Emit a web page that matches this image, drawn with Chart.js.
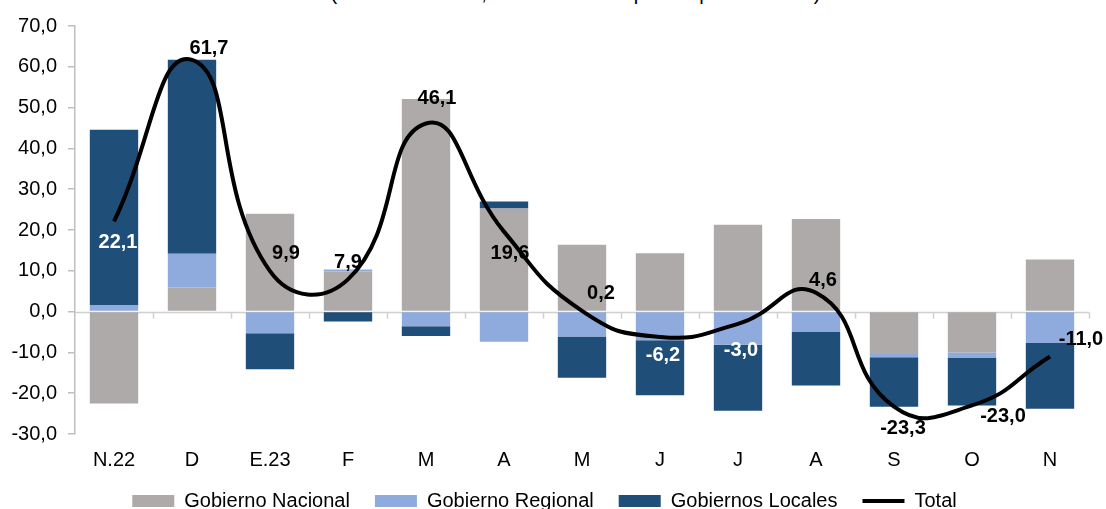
<!DOCTYPE html>
<html>
<head>
<meta charset="utf-8">
<script src="https://cdn.jsdelivr.net/npm/chart.js@4.4.1/dist/chart.umd.min.js"></script>
<style>
  html, body { margin: 0; padding: 0; background: #fff; overflow: hidden; }
  #wrap { position: relative; width: 1106px; height: 509px; }
  #sub { position: absolute; left: 0; width: 1106px; top: -18px; text-align: center; padding-left: 45px; box-sizing: border-box;
         font: 20px "Liberation Sans", Arial, sans-serif; color: #000; white-space: nowrap; }
  canvas { position: absolute; left: 0; top: 0; }
</style>
</head>
<body>
<div id="wrap">
  <div id="sub">(Variación % real, contribución en puntos porcentuales)</div>
  <canvas id="c" width="1106" height="509"></canvas>
</div>
<script>
const categories = ["N.22", "D", "E.23", "F", "M", "A", "M", "J", "J", "A", "S", "O", "N"];
const gobiernoNacional = [-22.5, 5.9, 24.0, 9.8, 52.1, 25.3, 16.4, 14.3, 21.3, 22.7, -10.4, -10.0, 12.8];
const gobiernoRegional = [1.6, 8.3, -5.3, 0.5, -3.6, -7.4, -6.1, -7.0, -8.1, -5.0, -0.8, -1.4, -7.7];
const gobiernosLocales = [43.0, 47.5, -8.8, -2.4, -2.4, 1.7, -10.1, -13.5, -16.2, -13.1, -12.1, -11.6, -16.1];
const total = [22.1, 61.7, 9.9, 7.9, 46.1, 19.6, 0.2, -6.2, -3.0, 4.6, -23.3, -23.0, -11.0];
const yTicks = [-30, -20, -10, 0, 10, 20, 30, 40, 50, 60, 70];

const fmt = v => v.toFixed(1).replace('.', ',');
const FONT = '"Liberation Sans", Arial, sans-serif';

// label offsets (pixels) and colours for the Total labels
const labelStyle = {
  dx: [4, 17, 16, 0, 11, 6, 19, 3, 3, 7, 9, 31, 31],
  dy: [21, -11, -18, -17, -25, 22, -17, 19, 27, -12, 22, 11, -17],
  color: ['#fff', '#000', '#000', '#000', '#000', '#000', '#000', '#fff', '#fff', '#000', '#000', '#000', '#000']
};

const zeroLinePlugin = {
  id: 'zeroLine',
  beforeDatasetsDraw(chart) {
    const { ctx, chartArea, scales } = chart;
    const y0 = Math.round(scales.y.getPixelForValue(0)) + 0.5;
    const n = categories.length;
    const step = (chartArea.right - chartArea.left) / n;
    ctx.save();
    ctx.strokeStyle = '#D0D0D0';
    ctx.lineWidth = 1.5;
    ctx.beginPath();
    ctx.moveTo(chartArea.left, y0);
    ctx.lineTo(chartArea.right, y0);
    for (let i = 1; i <= n; i++) {
      const x = Math.round(chartArea.left + i * step) + 0.5;
      ctx.moveTo(x, y0);
      ctx.lineTo(x, y0 + 6);
    }
    ctx.stroke();
    ctx.restore();
  }
};

const totalLabelPlugin = {
  id: 'totalLabels',
  afterDatasetsDraw(chart) {
    const idx = chart.data.datasets.findIndex(d => d.type === 'line');
    const meta = chart.getDatasetMeta(idx);
    const { ctx } = chart;
    ctx.save();
    ctx.font = 'bold 20px ' + FONT;
    ctx.textAlign = 'center';
    ctx.textBaseline = 'middle';
    meta.data.forEach((pt, i) => {
      ctx.fillStyle = labelStyle.color[i];
      ctx.fillText(fmt(total[i]), pt.x + labelStyle.dx[i], pt.y + labelStyle.dy[i]);
    });
    ctx.restore();
  }
};

new Chart(document.getElementById('c'), {
  data: {
    labels: categories,
    datasets: [
      { type: 'bar', label: 'Gobierno Nacional', data: gobiernoNacional, backgroundColor: '#AEAAAA', stack: 's', order: 2,
        barPercentage: 0.62, categoryPercentage: 1.0 },
      { type: 'bar', label: 'Gobierno Regional', data: gobiernoRegional, backgroundColor: '#8FAADC', stack: 's', order: 2,
        barPercentage: 0.62, categoryPercentage: 1.0 },
      { type: 'bar', label: 'Gobiernos Locales', data: gobiernosLocales, backgroundColor: '#1F4E79', stack: 's', order: 2,
        barPercentage: 0.62, categoryPercentage: 1.0 },
      { type: 'line', label: 'Total', data: total, borderColor: '#000', backgroundColor: '#000', borderWidth: 4,
        pointRadius: 0, tension: 0.5, order: 0, fill: false }
    ]
  },
  options: {
    responsive: false,
    animation: false,
    devicePixelRatio: 1,
    layout: { padding: { left: 0, right: 17, top: 26, bottom: -12 } },
    plugins: {
      tooltip: { enabled: false },
      title: { display: false },
      legend: {
        position: 'bottom',
        labels: {
          font: { family: FONT, size: 20 },
          color: '#000',
          usePointStyle: true,
          pointStyleWidth: 42,
          boxHeight: 12,
          padding: 25,
          generateLabels(chart) {
            return chart.data.datasets.map((ds, i) => ({
              text: ds.label,
              datasetIndex: i,
              fillStyle: ds.type === 'line' ? '#000' : ds.backgroundColor,
              strokeStyle: '#000',
              lineWidth: ds.type === 'line' ? 4 : 0,
              pointStyle: ds.type === 'line' ? 'line' : 'rect',
              hidden: false,
              fontColor: '#000'
            }));
          }
        }
      }
    },
    scales: {
      x: {
        stacked: true,
        grid: { display: false, drawTicks: false },
        border: { display: false },
        ticks: { font: { family: FONT, size: 20 }, color: '#000', padding: 14, maxRotation: 0, autoSkip: false },
        afterFit(scale) { scale.height = 32; }
      },
      y: {
        stacked: true,
        min: -30, max: 70,
        afterBuildTicks(scale) { scale.ticks = yTicks.map(v => ({ value: v })); },
        grid: { drawOnChartArea: false, color: '#BFBFBF', tickLength: 7, lineWidth: 1.5 },
        border: { display: true, color: '#BFBFBF', width: 1.5 },
        ticks: { font: { family: FONT, size: 20 }, color: '#000', padding: 11, callback: v => fmt(v) },
        afterFit(scale) { scale.width = 75; }
      }
    }
  },
  plugins: [zeroLinePlugin, totalLabelPlugin]
});
</script>
</body>
</html>
